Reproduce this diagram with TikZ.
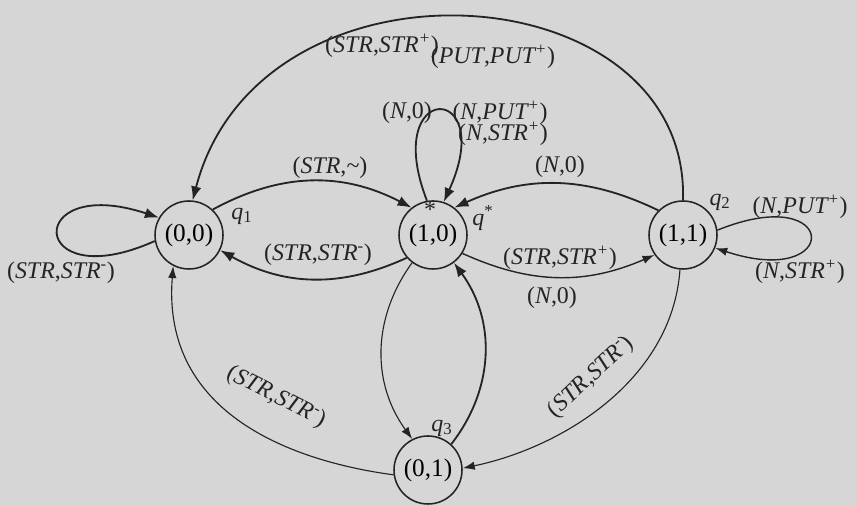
\documentclass[tikz,border=0pt]{standalone}
\usepackage{fontspec}
\setmainfont{Liberation Serif}
\usetikzlibrary{arrows.meta}
\definecolor{paper}{HTML}{D6D6D6}
\definecolor{ink}{HTML}{242424}
\newcommand{\pair}[2]{(\textit{#1},\textit{#2})}

\begin{document}
\begin{tikzpicture}[
  font=\fontsize{17}{20}\selectfont,
  state/.style={circle, draw=ink, line width=1.1pt, minimum size=1.7cm, inner sep=0pt,
                font=\fontsize{18}{20}\selectfont},
  lbl/.style={inner sep=1pt, text=ink},
  arr/.style={-{Latex[length=3.5mm,width=2.6mm]}, ink, line width=1.3pt},
  tarr/.style={-{Latex[length=3mm,width=2.1mm]}, ink, line width=0.8pt},
]
\fill[paper] (0,0) rectangle (21.425,12.65);
\useasboundingbox (0,0) rectangle (21.425,12.65);

% ---------------- the states ----------------
\node[state] (s00) at (4.725, 6.775)  {(0,0)};
\node[state] (s10) at (10.825, 6.775) {(1,0)};
\node[state] (s11) at (17.075, 6.775) {(1,1)};
\node[state] (s01) at (10.7, 0.9)     {(0,1)};
\node[lbl] (star) at (10.75, 7.4) {*};
\node[lbl] (q1) at (6.05, 7.25)  {\textit{q}\textsubscript{1}};
\node[lbl] (qs) at (12.075, 7.2) {\textit{q}\textsuperscript{*}};
\node[lbl] (q2) at (18.0, 7.6)   {\textit{q}\textsubscript{2}};
\node[lbl] (q3) at (11.05, 1.95) {\textit{q}\textsubscript{3}};

% ---------------- transitions ----------------
\draw[arr] (s11.north) .. controls +(0.175,5.75) and +(1.675,6.45) .. (s00.84);
\draw[arr] (s00.47) to[bend left=28] (s10.128);
\draw[arr] (s10.221) to[bend left=27] (s00.334);
\draw[arr] (s11.135) to[bend right=25] (s10.52);
\draw[tarr, line width=1pt] (s10.328) to[bend right=24] (s11.215);
\draw[tarr] (s10.233) to[bend right=36] (s01.117);
\draw[arr] (s01.48) to[bend right=37] (s10.307);
\draw[tarr] (s01.188) .. controls +(-2.425,0.325) and +(-0.3,-3.75) .. (s00.243);
\draw[tarr] (s11.265) .. controls +(-0.2,-2.8) and +(2.425,0.5) .. (s01.3);

% self loops
\draw[arr] (s00.190) .. controls +(-3.175,-1.425) and +(-3.4,1.125) .. (s00.150);
\draw[arr] (s10.100) .. controls +(-1.175,3.025) and +(1.375,3.025) .. (s10.72);
\draw[tarr, line width=1pt] (s11.8) .. controls +(3.075,1.25) and +(3.175,-1.05) .. (s11.-22);

% ---------------- labels ----------------
\node[lbl] (l1)  at (9.55, 11.5)   {\pair{STR}{STR\textsuperscript{+}}};
\node[lbl] (l2)  at (12.325, 11.225) {\pair{PUT}{PUT\textsuperscript{+}}};
\node[lbl] (l3)  at (8.25, 8.45)   {\pair{STR}{\textasciitilde}};
\node[lbl] (l4)  at (7.95, 6.275)  {\pair{STR}{STR\textsuperscript{-}}};
\node[lbl] (l5)  at (14.0, 8.475)  {(\textit{N},0)};
\node[lbl] (l6)  at (14.0, 6.2)    {\pair{STR}{STR\textsuperscript{+}}};
\node[lbl] (l7)  at (13.8, 5.2)    {(\textit{N},0)};
\node[lbl, rotate=-27] (l8) at (6.9, 2.72) {\pair{STR}{STR\textsuperscript{-}}};
\node[lbl, rotate=43]  (l9) at (14.78, 3.22) {\pair{STR}{STR\textsuperscript{-}}};
\node[lbl] (l10) at (1.525, 5.825) {\pair{STR}{STR\textsuperscript{-}}};
\node[lbl] (l11) at (10.175, 9.825) {(\textit{N},0)};
\node[lbl] (l12) at (12.5, 9.825)  {\pair{N}{PUT\textsuperscript{+}}};
\node[lbl] (l13) at (12.575, 9.3)  {\pair{N}{STR\textsuperscript{+}}};
\node[lbl] (l14) at (20.0, 7.475)  {\pair{N}{PUT\textsuperscript{+}}};
\node[lbl] (l15) at (20.0, 5.85)   {\pair{N}{STR\textsuperscript{+}}};

\end{tikzpicture}
\end{document}
